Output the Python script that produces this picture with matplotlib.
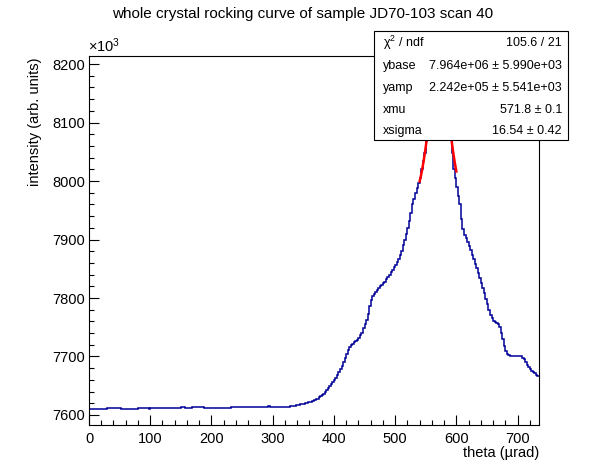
import numpy as np
import matplotlib
matplotlib.use("Agg")
import matplotlib.pyplot as plt
from matplotlib.patches import Rectangle

plt.rcParams['font.family'] = ['Liberation Sans', 'DejaVu Sans']
plt.rcParams['mathtext.fontset'] = 'custom'
plt.rcParams['mathtext.rm'] = 'Liberation Sans'
plt.rcParams['mathtext.it'] = 'Liberation Sans:italic'

# histogram: 2.5 urad bins from 0 to 735, intensity in units of 10^3
bin_width = 2.5
flat_vals = [
    7610, 7610, 7610, 7610, 7610, 7610, 7610, 7610, 7610, 7610, 7610, 7610,
    7611.5, 7611.5, 7611.5, 7611.5, 7611.5, 7611.5, 7611.5, 7611.5, 7611.5,
    7610, 7610, 7610, 7610, 7610, 7610, 7610, 7610, 7610, 7610, 7610,
    7611.5, 7611.5, 7611.5, 7611.5, 7611.5, 7611.5, 7611.5,
    7610.5,
    7611.5, 7611.5, 7611.5, 7611.5, 7611.5, 7611.5, 7611.5, 7611.5, 7611.5, 7611.5,
    7611.5, 7611.5, 7611.5, 7611.5, 7611.5, 7611.5, 7611.5, 7611.5, 7611.5, 7611.5,
    7613, 7613, 7613,
    7611.5, 7611.5, 7611.5, 7611.5,
    7613, 7613, 7613, 7613, 7613, 7613, 7613, 7613,
    7612, 7612,
    7612.5, 7612.5, 7612.5, 7612.5, 7612.5, 7612.5, 7612.5, 7612.5,
    7612.5, 7612.5, 7612.5, 7612.5, 7612.5, 7612.5, 7612.5, 7612.5,
    7613, 7613, 7613, 7613, 7613, 7613, 7613, 7613, 7613, 7613, 7613, 7613,
    7613, 7613, 7613, 7613, 7613, 7613, 7613, 7613, 7613, 7613, 7613, 7613,
    7615,
    7614, 7614, 7614, 7614, 7614, 7614, 7614, 7614, 7614, 7614,
]
rise_vals = [
    7614.2, 7614.2, 7614.5, 7615, 7615.5, 7616, 7616, 7616.5, 7617, 7617.5,
    7618, 7618.5, 7619, 7620, 7620.5, 7621.5, 7622, 7623, 7624, 7625,
    7626.5, 7628, 7630, 7632, 7634, 7636, 7639, 7643, 7646, 7650,
    7653, 7656, 7660, 7664, 7668, 7673, 7678, 7684, 7691, 7698,
    7705, 7711, 7717, 7720, 7722, 7725, 7727, 7729, 7732, 7736,
    7741, 7748, 7756, 7763, 7772, 7786, 7797, 7803, 7806, 7810,
    7814, 7817, 7820, 7822, 7825, 7828, 7832, 7836, 7840, 7844,
    7848, 7853, 7857, 7862, 7867, 7874, 7881, 7890, 7899, 7910,
    7920, 7932, 7946, 7960, 7970, 7979, 7988, 7996, 8005, 8020,
    8034, 8048, 8068,
]
peak_vals = [
    8085, 8105, 8125, 8145, 8162, 8175, 8184, 8189, 8188, 8182,
    8172, 8158, 8140, 8118, 8095, 8072, 8048,
]
fall_vals = [
    8020, 8005, 7990, 7975, 7960, 7935, 7918, 7908, 7902, 7895,
    7889, 7882, 7873, 7866, 7858, 7851, 7843, 7834, 7825, 7817,
    7808, 7798, 7789, 7779, 7771, 7765, 7761, 7759, 7757, 7755,
    7750, 7741, 7730, 7718, 7710, 7704, 7702, 7701,
    7701, 7701, 7701, 7701, 7701, 7701, 7701,
    7698, 7695, 7691, 7686, 7682, 7679, 7676, 7674, 7671, 7669, 7667,
]
counts = np.array(flat_vals + rise_vals + peak_vals + fall_vals)
edges = np.arange(len(counts) + 1) * bin_width

# gaussian fit result (y in units of 10^3)
ybase, yamp, xmu, xsigma = 7964.0, 224.2, 571.8, 16.54
fit_lo, fit_hi = 540, 600
stat_labels = ['χ$^{2}$ / ndf', 'ybase', 'yamp', 'xmu', 'xsigma']
stat_values = ['105.6 / 21', '7.964e+06 ± 5.990e+03', '2.242e+05 ± 5.541e+03',
               '571.8 ± 0.1', '16.54 ± 0.42']

fig = plt.figure(figsize=(5.98, 4.74), dpi=100)
ax = fig.add_axes([89/598, 1-425/474, 450/598, 369/474])

ax.stairs(counts, edges, baseline=None, color='#000099', linewidth=1.1)
xf = np.linspace(fit_lo, fit_hi, 300)
yf = ybase + yamp*np.exp(-0.5*((xf - xmu)/xsigma)**2)
ax.plot(xf, yf, color='red', linewidth=1.8)

ax.set_xlim(0, 735)
ax.set_ylim(7582.9, 8213.7)
ax.set_xticks(np.arange(0, 701, 100))
ax.set_xticks(np.arange(0, 735, 20), minor=True)
ax.set_yticks(np.arange(7600, 8201, 100))
ax.set_yticks(np.arange(7600, 8213, 20), minor=True)
ax.tick_params(which='both', direction='in', labelsize=10.5, width=0.8)
ax.tick_params(which='major', length=7.2)
ax.tick_params(which='minor', length=3.6)
ax.tick_params(axis='x', pad=5)
ax.tick_params(axis='y', pad=3)
for s in ax.spines.values():
    s.set_linewidth(0.8)

ax.text(1.0, -0.076, 'theta (µrad)', transform=ax.transAxes, ha='right', va='center', fontsize=10.5)
ax.text(-0.12, 0.995, 'intensity (arb. units)', transform=ax.transAxes, rotation=90,
        ha='center', va='top', fontsize=10.5)
ax.text(-0.003, 1.003, '×10$^{3}$', transform=ax.transAxes, ha='left', va='bottom', fontsize=10.5)

fig.text(303/598, 1-14/474, 'whole crystal rocking curve of sample JD70-103 scan 40',
         ha='center', va='center', fontsize=11)

# stats box
box = Rectangle((374/598, 1-140/474), 194/598, 109/474, transform=fig.transFigure,
                facecolor='white', edgecolor='black', linewidth=0.8, zorder=5)
fig.add_artist(box)
row_y = [43, 66, 88, 110, 131]
for lab, val, yy in zip(stat_labels, stat_values, row_y):
    fig.text(383/598, 1-yy/474, lab, ha='left', va='center', fontsize=9, zorder=6)
    fig.text(562/598, 1-yy/474, val, ha='right', va='center', fontsize=9, zorder=6)

fig.savefig('out.png', dpi=100)
